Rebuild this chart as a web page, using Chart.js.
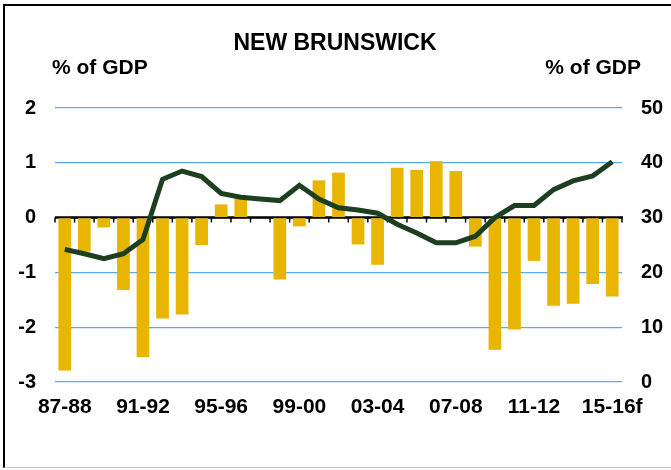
<!DOCTYPE html>
<html lang="en">
<head>
<meta charset="UTF-8">
<title>New Brunswick</title>
<script src="https://cdn.jsdelivr.net/npm/chart.js@4"></script>
<style>
  body { margin: 0; background: #fff; }
  #wrap { position: relative; width: 671px; height: 470px; overflow: hidden; }
  #frame {
    position: absolute; left: 3px; top: 4px; width: 700px; height: 464px;
    border-left: 2px solid #000; border-top: 2px solid #000; border-bottom: 1px solid #c8c8c8;
    box-sizing: border-box; pointer-events: none;
  }
</style>
</head>
<body>
<div id="wrap">
  <canvas id="chart" width="671" height="470"></canvas>
  <div id="frame"></div>
</div>
<script>
// fiscal years
const years = ['87-88','88-89','89-90','90-91','91-92','92-93','93-94','94-95','95-96','96-97',
  '97-98','98-99','99-00','00-01','01-02','02-03','03-04','04-05','05-06','06-07',
  '07-08','08-09','09-10','10-11','11-12','12-13','13-14','14-15','15-16f'];

// budget balance, % of GDP (left axis, bars)
const balance = [-2.79, -0.62, -0.18, -1.32, -2.55, -1.84, -1.77, -0.50, 0.24, 0.34,
  0, -1.13, -0.16, 0.68, 0.82, -0.49, -0.86, 0.91, 0.87, 1.03,
  0.85, -0.53, -2.41, -2.04, -0.79, -1.61, -1.57, -1.21, -1.44];

// net debt, % of GDP (right axis, line)
const debt = [24.2, 23.4, 22.5, 23.4, 26.0, 37.0, 38.5, 37.5, 34.4, 33.7,
  33.4, 33.1, 35.9, 33.4, 31.8, 31.4, 30.8, 28.8, 27.2, 25.4,
  25.4, 26.6, 30.0, 32.2, 32.2, 35.1, 36.7, 37.6, 40.2];

const leftTicks = [-3, -2, -1, 0, 1, 2];
const rightTicks = [0, 10, 20, 30, 40, 50];

const FONT = '"Liberation Sans", Arial, sans-serif';

const extras = {
  id: 'extras',
  beforeDatasetsDraw(chart) {
    // zero line with category tick marks
    const ctx = chart.ctx, a = chart.chartArea;
    const y0 = chart.scales.yL.getPixelForValue(0);
    const step = (a.right - a.left) / years.length;
    ctx.save();
    ctx.strokeStyle = '#000';
    ctx.lineWidth = 1.5;
    ctx.beginPath();
    for (let i = 0; i <= years.length; i++) {
      const x = a.left + i * step;
      ctx.moveTo(x, y0);
      ctx.lineTo(x, y0 + 5);
    }
    ctx.stroke();
    ctx.lineWidth = 2.5;
    ctx.beginPath();
    ctx.moveTo(a.left, y0);
    ctx.lineTo(a.right + 1, y0);
    ctx.stroke();
    ctx.restore();
  },
  afterDraw(chart) {
    const ctx = chart.ctx;
    ctx.save();
    ctx.fillStyle = '#000';
    ctx.textBaseline = 'middle';
    ctx.font = 'bold 23px ' + FONT;
    ctx.textAlign = 'center';
    ctx.fillText('NEW BRUNSWICK', 335, 44);
    ctx.font = 'bold 21px ' + FONT;
    ctx.textAlign = 'left';
    ctx.fillText('% of GDP', 52, 68);
    ctx.textAlign = 'right';
    ctx.fillText('% of GDP', 641, 68);
    ctx.restore();
  }
};

new Chart(document.getElementById('chart'), {
  data: {
    labels: years,
    datasets: [
      {
        type: 'line',
        data: debt,
        yAxisID: 'yR',
        borderColor: '#1c3f20',
        borderWidth: 5,
        pointRadius: 0,
        tension: 0,
        order: 0
      },
      {
        type: 'bar',
        data: balance,
        yAxisID: 'yL',
        backgroundColor: '#e8b500',
        barPercentage: 0.65,
        categoryPercentage: 1,
        order: 1
      }
    ]
  },
  options: {
    responsive: false,
    devicePixelRatio: 1,
    animation: false,
    layout: { padding: { top: 108, left: 0, right: 0, bottom: 0 } },
    plugins: { legend: { display: false }, tooltip: { enabled: false } },
    scales: {
      x: {
        offset: true,
        grid: { display: false, drawTicks: false },
        border: { display: false },
        afterFit(s) { s.height = 88; },
        ticks: {
          autoSkip: false,
          maxRotation: 0,
          padding: 13,
          color: '#000',
          font: { family: FONT, size: 21, weight: 'bold' },
          callback(v, i) { return i % 4 === 0 ? years[i] : ''; }
        }
      },
      yL: {
        position: 'left',
        min: -3, max: 2,
        afterFit(s) { s.width = 55; },
        afterBuildTicks(s) { s.ticks = leftTicks.map(v => ({ value: v })); },
        grid: { color: '#5aaaf2', lineWidth: 1.2, drawTicks: false },
        border: { display: false },
        ticks: { padding: 19, color: '#000', font: { family: FONT, size: 20, weight: 'bold' } }
      },
      yR: {
        position: 'right',
        min: 0, max: 50,
        afterFit(s) { s.width = 49; },
        afterBuildTicks(s) { s.ticks = rightTicks.map(v => ({ value: v })); },
        grid: { display: false, drawTicks: false },
        border: { display: false },
        ticks: { padding: 19, color: '#000', font: { family: FONT, size: 20, weight: 'bold' } }
      }
    }
  },
  plugins: [extras]
});
</script>
</body>
</html>
